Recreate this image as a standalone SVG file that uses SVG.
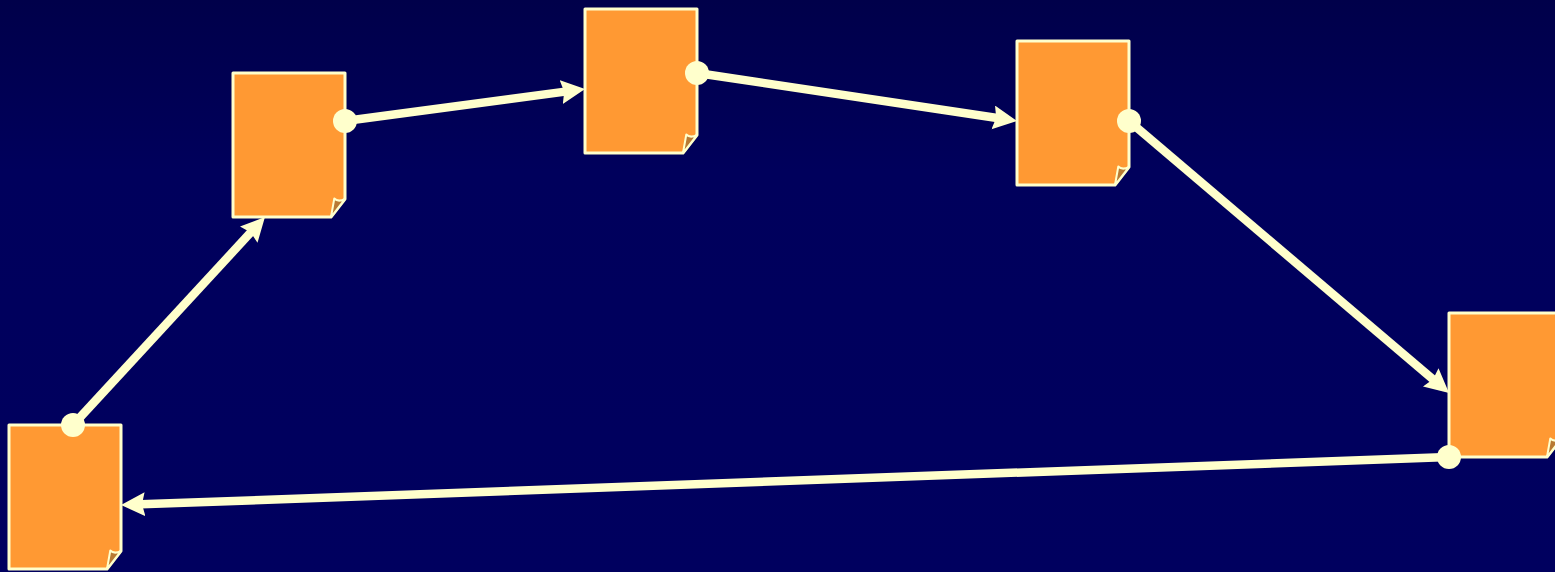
<svg xmlns="http://www.w3.org/2000/svg" width="1555" height="572" viewBox="0 0 1555 572">
<defs>
<linearGradient id="bg" x1="0" y1="0" x2="0" y2="1"><stop offset="0" stop-color="#00004a"/><stop offset="0.3" stop-color="#00005c"/><stop offset="1" stop-color="#00005f"/></linearGradient>
<marker id="arrow" markerUnits="userSpaceOnUse" markerWidth="26" markerHeight="26" refX="4" refY="12" orient="auto"><path d="M24 12L0 0L3 12L0 24Z" fill="#ffffcc"/></marker>
<g id="doc">
<path d="M0 0H112V126L98 144H0Z" fill="#ff9933" stroke="#ffffcc" stroke-width="3" stroke-linejoin="round"/>
<path d="M98 144L101.300 125.500Q105 129.500 112 126Z" fill="#b87a33" stroke="#ffffcc" stroke-width="2" stroke-linejoin="round"/>
</g>
<style>.c{fill:none;stroke:#ffffcc;stroke-width:8.500;marker-end:url(#arrow)}.d{fill:#ffffcc}</style>
</defs>
<rect width="1555" height="572" fill="url(#bg)"/>
<g id="node1"><use href="#doc" x="9" y="425"/></g>
<g id="node2"><use href="#doc" x="233" y="73"/></g>
<g id="node3"><use href="#doc" x="585" y="9"/></g>
<g id="node4"><use href="#doc" x="1017" y="41"/></g>
<g id="node5"><use href="#doc" x="1449" y="313"/></g>
<g id="connectors">
<line class="c" x1="73" y1="425" x2="251.400" y2="231.700"/>
<line class="c" x1="345" y1="121" x2="565.200" y2="91.600"/>
<line class="c" x1="697" y1="73" x2="997.200" y2="118"/>
<line class="c" x1="1129" y1="121" x2="1433.800" y2="380"/>
<line class="c" x1="1449" y1="457" x2="141" y2="504.300"/>
<circle class="d" cx="73" cy="425" r="12"/>
<circle class="d" cx="345" cy="121" r="12"/>
<circle class="d" cx="697" cy="73" r="12"/>
<circle class="d" cx="1129" cy="121" r="12"/>
<circle class="d" cx="1449" cy="457" r="12"/>
</g>
</svg>
